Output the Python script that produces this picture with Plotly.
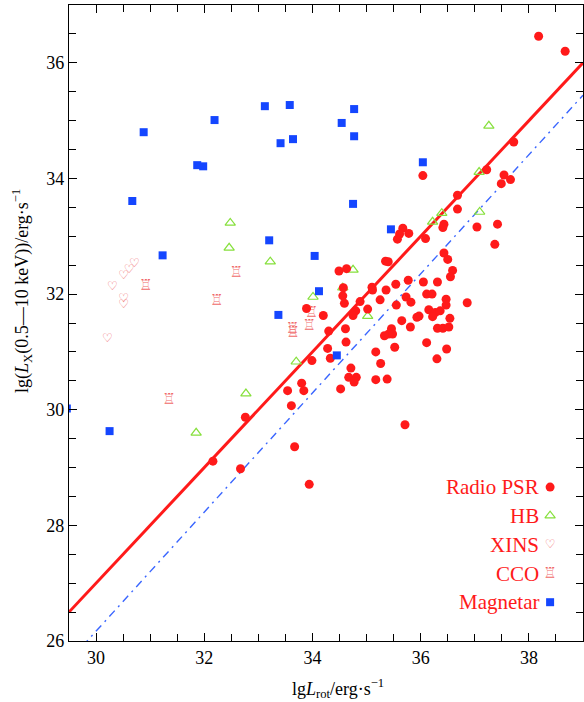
import plotly.graph_objects as go

# ---- data: lg L_rot (x) and lg L_X(0.5-10 keV) (y) -------------------------
psr_x = [38.18, 38.67, 37.72, 36.04, 37.22, 37.54, 37.49, 37.66, 36.68, 36.68,
         37.04, 37.42, 36.43, 36.41, 35.67, 35.61, 35.78, 35.57, 36.09,
         37.37, 36.43, 36.50, 36.59, 36.55, 35.35, 35.40, 34.49, 34.63, 35.77,
         36.05, 36.31, 35.54, 35.10, 35.11, 35.36, 34.57, 34.56, 34.59, 36.11,
         36.21, 35.73, 35.82, 36.47, 36.47, 36.86, 35.25, 35.55, 34.88, 34.80,
         34.75, 35.02, 36.15, 36.27, 36.36, 36.22, 35.97, 35.93, 36.54, 35.65,
         35.81, 36.31, 36.41, 36.52, 35.46, 35.48, 35.41, 35.33, 34.61, 34.62,
         35.52, 36.11, 36.48, 35.17, 36.30, 35.26, 34.33, 34.71, 34.67, 34.81,
         34.77, 35.17, 35.38, 34.52, 35.71,
         33.54, 33.80, 33.84, 33.61, 32.76, 32.16, 32.67, 33.67, 33.94,
         33.89, 34.20, 34.30, 34.28, 33.99]
psr_y = [36.46, 36.20, 34.63, 34.05, 34.15, 34.06, 33.91, 33.98, 33.71, 33.47,
         33.16, 33.21, 33.21, 33.15, 33.14, 33.04, 33.05, 32.95, 32.96,
         32.86, 32.71, 32.60, 32.41, 32.30, 32.57, 32.56, 32.40, 32.44, 32.24,
         32.21, 32.21, 32.17, 32.12, 32.07, 32.07, 32.11, 31.97, 31.84, 32.00,
         32.00, 31.95, 31.86, 31.91, 31.81, 31.85, 31.90, 31.81, 31.87, 31.71,
         31.63, 31.74, 31.73, 31.68, 31.71, 31.61, 31.62, 31.60, 31.58, 31.54,
         31.43, 31.41, 31.41, 31.43, 31.40, 31.31, 31.31, 31.28, 31.40, 31.17,
         31.08, 31.16, 31.05, 31.00, 30.88, 30.80, 30.89, 30.72, 30.56, 30.56,
         30.48, 30.52, 30.53, 30.36, 29.74,
         30.33, 30.46, 30.33, 30.07, 29.87, 29.11, 28.98, 29.36, 28.71,
         31.75, 31.63, 31.36, 31.06, 30.85]

hb_x = [32.48, 32.46, 33.22, 34.01, 34.56, 34.75, 35.02, 33.70, 32.77, 31.85,
        36.22, 36.39, 37.09, 37.08, 37.26]
hb_y = [33.23, 32.80, 32.56, 31.95, 32.11, 32.42, 31.62, 30.83, 30.28, 29.60,
        33.25, 33.40, 33.42, 34.11, 34.91]

xins_x = [30.71, 30.61, 30.51, 30.30, 30.51, 30.51, 30.21]
xins_y = [32.52, 32.42, 32.31, 32.12, 31.92, 31.82, 31.22]

cco_x = [30.92, 32.59, 32.23, 31.35, 33.98, 33.63, 33.64, 33.94]
cco_y = [32.13, 32.36, 31.87, 30.17, 31.67, 31.40, 31.33, 31.45]

mag_x = [29.46, 30.25, 30.67, 30.88, 31.23, 31.87, 31.98, 32.19, 33.12, 33.58,
         33.41, 33.64, 34.54, 34.77, 34.77, 34.75, 35.45, 36.04, 33.20, 33.37,
         34.04, 34.12, 34.45]
mag_y = [30.02, 29.63, 33.61, 34.80, 32.67, 34.23, 34.21, 35.01, 35.25, 35.27,
         34.61, 34.68, 34.96, 35.20, 34.73, 33.56, 33.12, 34.28, 32.93, 31.64,
         32.66, 32.05, 30.94]

# reference relations: L_X = 1e-3 L_rot, and a linear fit
line_span = [29.5, 39.0]
eff_slope, eff_icpt = 1.0, -3.0
fit_slope, fit_icpt = 1.03, -4.73

legend_names = ["Radio PSR", "HB", "XINS", "CCO", "Magnetar"]

RED = "#ff1a1a"
GREEN = "#86e03c"
PINK = "#f06a6a"
BLUE = "#1446ff"
SERIF = "Liberation Serif"

fig = go.Figure()

fig.add_trace(go.Scatter(
    x=line_span, y=[fit_slope * v + fit_icpt for v in line_span],
    mode="lines", line=dict(color="#3a66ff", width=1.4, dash="8px,5px,2px,5px"),
    showlegend=False, hoverinfo="skip"))
fig.add_trace(go.Scatter(
    x=line_span, y=[eff_slope * v + eff_icpt for v in line_span],
    mode="lines", line=dict(color=RED, width=3), showlegend=False,
    hoverinfo="skip"))

# marker styles per population
styles = {
    "Radio PSR": dict(mode="markers", marker=dict(symbol="circle", size=9,
                                                  color=RED)),
    "HB": dict(mode="markers", marker=dict(symbol="triangle-up-open", size=9,
                                           color=GREEN, line=dict(width=1.2, color=GREEN))),
    "XINS": dict(mode="text", text="\u2661",
                 textfont=dict(family="DejaVu Sans", size=12, color=PINK)),
    "CCO": dict(mode="text", text="\u2656",
                textfont=dict(family="DejaVu Sans", size=15, color=PINK)),
    "Magnetar": dict(mode="markers", marker=dict(symbol="square", size=8,
                                                 color=BLUE)),
}
series = {
    "Radio PSR": (psr_x, psr_y),
    "HB": (hb_x, hb_y),
    "XINS": (xins_x, xins_y),
    "CCO": (cco_x, cco_y),
    "Magnetar": (mag_x, mag_y),
}
for name in ["XINS", "CCO", "HB", "Radio PSR", "Magnetar"]:
    xs, ys = series[name]
    st = styles[name]
    kw = dict(x=xs, y=ys, name=name, showlegend=False, mode=st["mode"])
    if "marker" in st:
        kw["marker"] = st["marker"]
    if "text" in st:
        kw["text"] = [st["text"]] * len(xs)
        kw["textfont"] = st["textfont"]
        kw["textposition"] = "middle center"
    fig.add_trace(go.Scatter(**kw))

# legend drawn inside the frame: label text on the left, key on the right
key_x = 0.936
key_y = [0.242, 0.197, 0.151, 0.105, 0.061]
for name, ky in zip(legend_names, key_y):
    st = styles[name]
    kw = dict(x=[key_x], y=[ky], xaxis="x2", yaxis="y2", mode=st["mode"],
              showlegend=False, hoverinfo="skip")
    if "marker" in st:
        kw["marker"] = st["marker"]
    if "text" in st:
        kw["text"] = [st["text"]]
        kw["textfont"] = st["textfont"]
        kw["textposition"] = "middle center"
    fig.add_trace(go.Scatter(**kw))
    fig.add_annotation(x=0.918, y=ky, xref="x2", yref="y2", text=name,
                       showarrow=False, xanchor="right", yanchor="middle",
                       font=dict(family=SERIF, size=21, color=RED))

axis_common = dict(
    showgrid=False, zeroline=False, showline=True, linecolor="black",
    linewidth=1.3, mirror="allticks", ticks="inside", ticklen=8,
    tickwidth=1.2, tickcolor="black", dtick=2,
    tickfont=dict(family=SERIF, size=18, color="black"),
    minor=dict(ticks="inside", ticklen=7, tickwidth=1.2, tickcolor="black",
               dtick=0.5, showgrid=False),
)
fig.update_layout(
    width=584, height=702,
    margin=dict(l=69, r=1, t=5, b=61),
    paper_bgcolor="white", plot_bgcolor="white",
    showlegend=False,
    xaxis=dict(range=[29.5, 39.0], tick0=30, **axis_common),
    yaxis=dict(range=[26.0, 37.0], tick0=26, **axis_common),
    xaxis2=dict(overlaying="x", range=[0, 1], visible=False),
    yaxis2=dict(overlaying="y", range=[0, 1], visible=False),
)

fig.add_annotation(
    x=0.523, y=-0.074, xref="paper", yref="paper", showarrow=False,
    text="lg<i>L</i><sub>rot</sub>/erg·s<sup>−1</sup>",
    xanchor="center", yanchor="middle",
    font=dict(family=SERIF, size=18, color="black"))
fig.add_annotation(
    x=-0.092, y=0.55, xref="paper", yref="paper", showarrow=False,
    text="lg(<i>L</i><sub>X</sub>(0.5—10 keV))/erg·s<sup>−1</sup>",
    textangle=-90, xanchor="center", yanchor="middle",
    font=dict(family=SERIF, size=18, color="black"))

fig.write_html("out.html")
